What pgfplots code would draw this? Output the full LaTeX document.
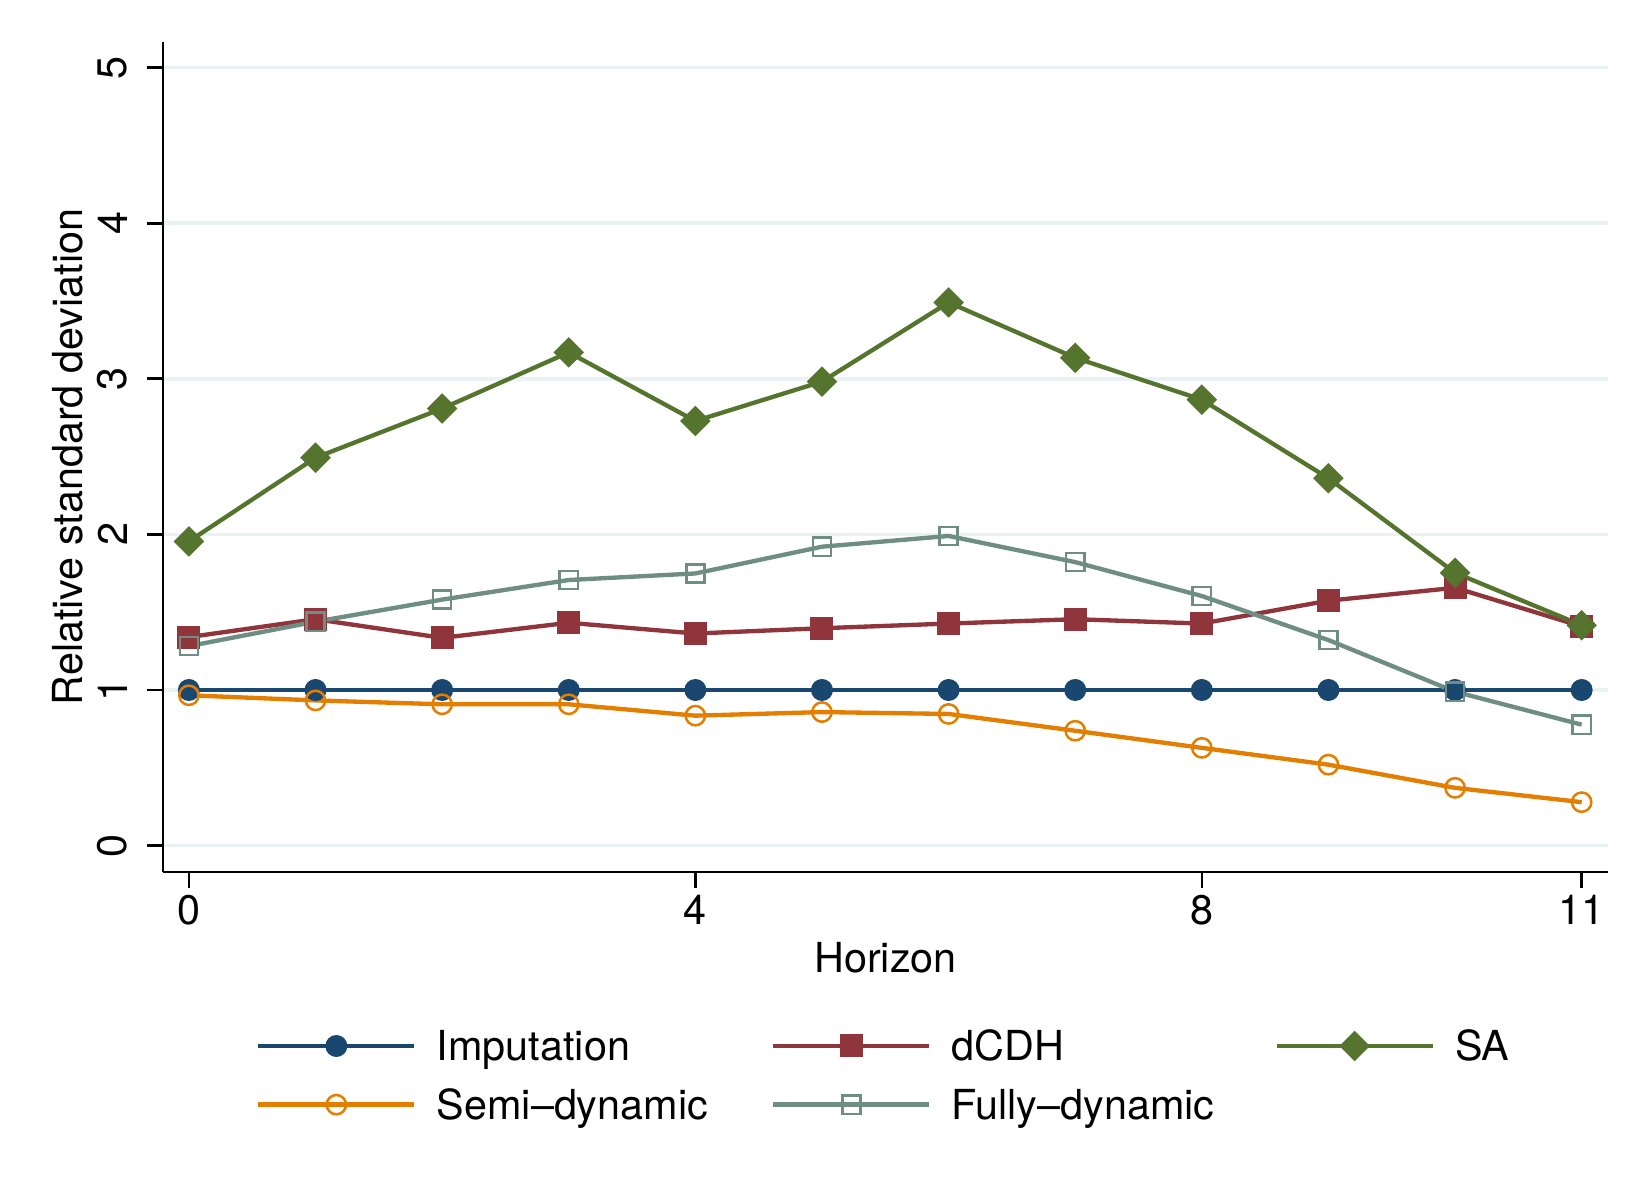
\documentclass[border=0pt]{standalone}
\usepackage{pgfplots}
\pgfplotsset{compat=1.18}
\usepackage{fontspec}
\setmainfont{TeX Gyre Heros}
\definecolor{snavy}{HTML}{1A476F}
\definecolor{smaroon}{HTML}{90353B}
\definecolor{sgreen}{HTML}{55752F}
\definecolor{sorange}{HTML}{E37E00}
\definecolor{steal}{HTML}{6E8E84}
\definecolor{sgrid}{HTML}{EAF2F3}
\begin{document}
\begin{tikzpicture}[font=\fontsize{12.4}{15}\selectfont]
\useasboundingbox (0,0) rectangle (495pt,360pt);
\begin{axis}[
  at={(48.9pt,98.4pt)}, anchor=south west,
  scale only axis, width=433.5pt, height=249pt,
  xmin=-0.2046, xmax=11.208, ymin=-0.170, ymax=5.165,
  axis lines=left,
  axis line style={-, line width=0.8pt, black},
  xtick={0,4,8,11}, ytick={0,1,2,3,4,5},
  tick align=outside,
  major tick length=4.8pt,
  tick style={line width=0.8pt, black},
  /pgf/number format/assume math mode=true,
  yticklabel style={rotate=90, anchor=south, inner sep=0pt},
  xticklabel style={anchor=north, inner sep=0pt},
  yticklabel shift=5.7pt,
  xticklabel shift=2pt,
  ymajorgrids,
  grid style={sgrid, line width=1.1pt},
  xlabel={Horizon},
  ylabel={Relative standard deviation},
  xlabel style={at={(axis description cs:0.5,-0.1213)}, anchor=base, inner sep=0pt},
  ylabel style={at={(axis description cs:-0.056,0.5)}, anchor=base, inner sep=0pt},
  every axis plot/.append style={line width=1.3pt},
  legend columns=3,
  legend cell align=left,
  legend style={draw=none, fill=none, inner sep=0pt, outer sep=0pt,
    at={(axis description cs:0.0645,-0.1837)}, anchor=north west,
    nodes={inner sep=0pt, text width=96.8pt, align=left, text height=10.9pt, text depth=2pt},
    row sep=4.7pt, column sep=0pt,
    /tikz/every odd column/.append style={column sep=6.1pt},
    /tikz/column 2/.append style={column sep=3.5pt}},
  legend image code/.code={\draw[mark repeat=2,mark phase=2,#1] plot coordinates {(0pt,0pt) (23.4pt,0pt) (46.8pt,0pt)};},
]
\addplot[snavy, mark=*, mark size=3.1pt, mark options={solid, line width=0.4pt, fill=snavy}] coordinates {
(0,1) (1,1) (2,1) (3,1) (4,1) (5,1) (6,1) (7,1) (8,1) (9,1) (10,1) (11,1)};
\addlegendentry{Imputation}
\addplot[smaroon, mark=square*, mark size=3.25pt, mark options={solid, line width=0.4pt, fill=smaroon}] coordinates {
(0,1.340) (1,1.455) (2,1.335) (3,1.432) (4,1.363) (5,1.397) (6,1.427) (7,1.455) (8,1.427) (9,1.574) (10,1.657) (11,1.409)};
\addlegendentry{dCDH}
\addplot[sgreen, mark=diamond*, mark size=4.3pt, mark options={solid, line width=0.4pt, fill=sgreen, xscale=1.333}] coordinates {
(0,1.955) (1,2.493) (2,2.809) (3,3.170) (4,2.729) (5,2.982) (6,3.491) (7,3.135) (8,2.866) (9,2.361) (10,1.753) (11,1.416)};
\addlegendentry{SA}
\addplot[sorange, mark=o, mark size=2.9pt, mark options={solid, line width=0.75pt}] coordinates {
(0,0.966) (1,0.933) (2,0.908) (3,0.908) (4,0.835) (5,0.858) (6,0.846) (7,0.738) (8,0.628) (9,0.520) (10,0.371) (11,0.279)};
\addlegendentry{Semi–dynamic}
\addplot[steal, mark=square, mark size=2.73pt, mark options={solid, line width=0.75pt}] coordinates {
(0,1.282) (1,1.439) (2,1.581) (3,1.707) (4,1.749) (5,1.921) (6,1.990) (7,1.822) (8,1.604) (9,1.321) (10,0.989) (11,0.777)};
\addlegendentry{Fully–dynamic}
\end{axis}
\end{tikzpicture}
\end{document}
